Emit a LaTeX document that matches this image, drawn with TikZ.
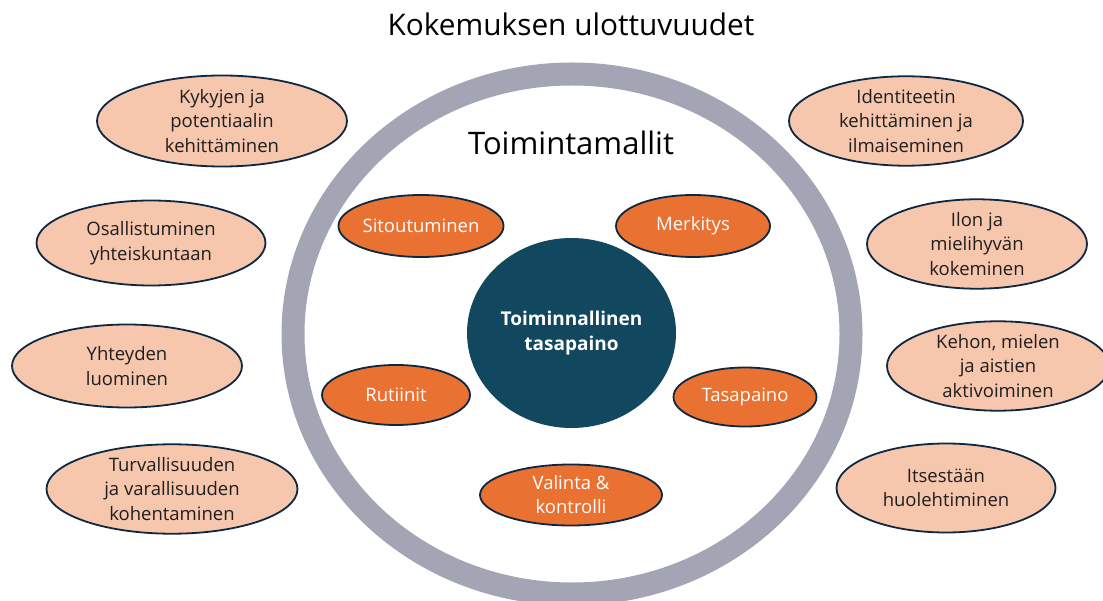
\documentclass[tikz,border=0pt]{standalone}
\usepackage{fontspec}
\setmainfont{Open Sans}
\usetikzlibrary{shapes.geometric}

\definecolor{ringgray}{HTML}{A3A5B4}
\definecolor{peach}{HTML}{F6C6AD}
\definecolor{orangefill}{HTML}{E97132}
\definecolor{tealdark}{HTML}{11475F}
\definecolor{outline}{HTML}{0E2841}

\tikzset{
  ulottuvuus/.style={ellipse, draw=outline, line width=1.8pt, fill=peach,
    inner sep=0pt, align=center, text=black!88,
    font=\fontsize{18.5}{24.5}\selectfont},
  malli/.style={ellipse, draw=outline, line width=1.8pt, fill=orangefill,
    inner sep=0pt, align=center, text=white,
    font=\fontsize{18.5}{24}\selectfont},
}

\begin{document}
\begin{tikzpicture}[x=1pt,y=-1pt]
\useasboundingbox (0,0) rectangle (1103,601);
% outer ring
\draw[ringgray, line width=23pt] (572,334) ellipse [x radius=279, y radius=260];
% titles
\node (otsikko) at (571,24) {\fontsize{29.8}{36}\selectfont Kokemuksen ulottuvuudet};
\node (mallit) at (571,143) {\fontsize{31}{36}\selectfont Toimintamallit};
% centre
\node[ellipse, fill=tealdark, minimum width=209pt, minimum height=190pt, inner sep=0pt,
  text=white, align=center, font=\bfseries\fontsize{19}{25}\selectfont] (keskus) at (571.5,333)
  {Toiminnallinen\\tasapaino};
% orange ones inside the ring
\node[malli, minimum width=151pt, minimum height=62pt] (sitoutuminen) at (421,226) {Sitoutuminen};
\node[malli, minimum width=154pt, minimum height=62pt] (merkitys) at (693,226) {Merkitys};
\node[malli, minimum width=148pt, minimum height=60pt] (rutiinit) at (396,395) {Rutiinit};
\node[malli, minimum width=143pt, minimum height=59pt] (tasapaino) at (745,397) {Tasapaino};
\node[malli, minimum width=182pt, minimum height=61pt] (valinta) at (571,495) {Valinta \&\\kontrolli};
% left column
\node[ulottuvuus, minimum width=250pt, minimum height=91pt] (kykyjen) at (222,121) {Kykyjen ja\\potentiaalin\\kehittäminen};
\node[ulottuvuus, minimum width=229pt, minimum height=85pt] (osallistuminen) at (151,243) {Osallistuminen\\yhteiskuntaan};
\node[ulottuvuus, minimum width=230pt, minimum height=83pt] (yhteyden) at (127,366) {Yhteyden\\luominen};
\node[ulottuvuus, minimum width=251pt, minimum height=85pt] (turvallisuus) at (172,489) {Turvallisuuden\\ja varallisuuden\\kohentaminen};
% right column
\node[ulottuvuus, minimum width=234pt, minimum height=87pt] (identiteetti) at (906,121) {Identiteetin\\kehittäminen ja\\ilmaiseminen};
\node[ulottuvuus, minimum width=220pt, minimum height=88pt] (ilo) at (977,244) {Ilon ja\\mielihyvän\\kokeminen};
\node[ulottuvuus, minimum width=222pt, minimum height=88pt] (keho) at (998,366) {Kehon, mielen\\ja aistien\\aktivoiminen};
\node[ulottuvuus, minimum width=219pt, minimum height=89pt] (itsesta) at (946,488) {Itsestään\\huolehtiminen};
\end{tikzpicture}
\end{document}
